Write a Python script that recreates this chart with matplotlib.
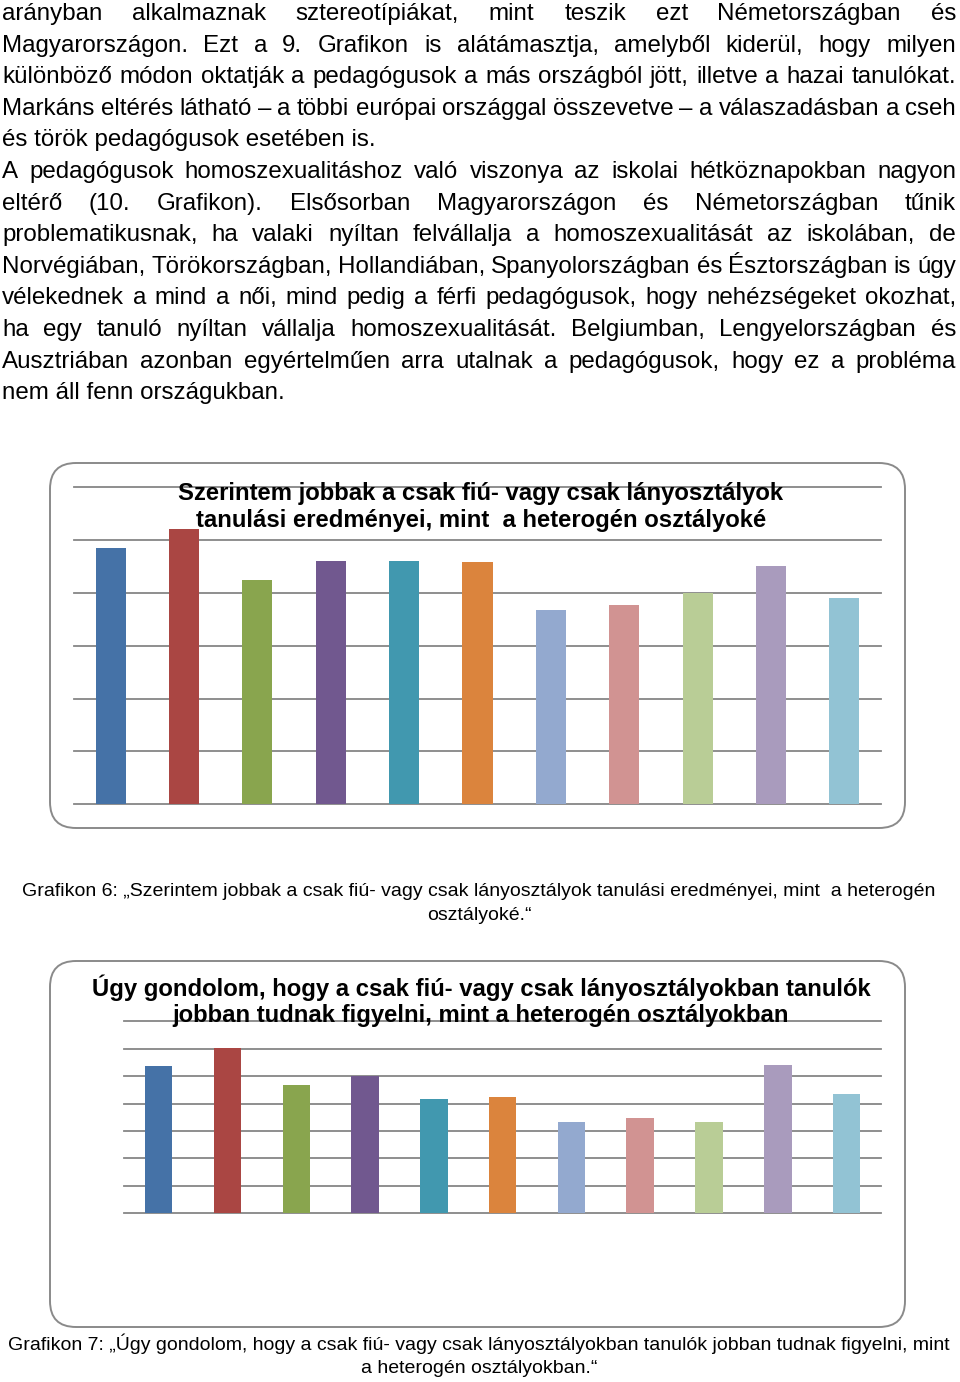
import matplotlib

matplotlib.use("Agg")
import matplotlib.pyplot as plt
from matplotlib.patches import FancyBboxPatch

plt.rcParams["font.family"] = ["Liberation Sans", "DejaVu Sans"]

W, H = 960, 1382

# --- page text -------------------------------------------------------------
BODY_LINES = [
    ("arányban alkalmaznak sztereotípiákat, mint teszik ezt Németországban és", True),
    ("Magyarországon. Ezt a 9. Grafikon is alátámasztja, amelyből kiderül, hogy milyen", True),
    ("különböző módon oktatják a pedagógusok a más országból jött, illetve a hazai tanulókat.", True),
    ("Markáns eltérés látható – a többi európai országgal összevetve – a válaszadásban a cseh", True),
    ("és török pedagógusok esetében is.", False),
    ("A pedagógusok homoszexualitáshoz való viszonya az iskolai hétköznapokban nagyon", True),
    ("eltérő (10. Grafikon). Elsősorban Magyarországon és Németországban tűnik", True),
    ("problematikusnak, ha valaki nyíltan felvállalja a homoszexualitását az iskolában, de", True),
    ("Norvégiában, Törökországban, Hollandiában, Spanyolországban és Észtországban is úgy", True),
    ("vélekednek a mind a női, mind pedig a férfi pedagógusok, hogy nehézségeket okozhat,", True),
    ("ha egy tanuló nyíltan vállalja homoszexualitását. Belgiumban, Lengyelországban és", True),
    ("Ausztriában azonban egyértelműen arra utalnak a pedagógusok, hogy ez a probléma", True),
    ("nem áll fenn országukban.", False),
]

# --- chart data (11 countries, no labels shown) ----------------------------
COLORS = ["#4572A7", "#AA4643", "#89A54E", "#71588F", "#4198AF", "#DB843D",
          "#93A9CF", "#D19392", "#B9CD96", "#A99BBD", "#92C3D4"]

chart6_title = ["Szerintem jobbak a csak fiú- vagy csak lányosztályok",
                "tanulási eredményei, mint  a heterogén osztályoké"]
chart6_values = [4.85, 5.20, 4.25, 4.60, 4.61, 4.58, 3.68, 3.77, 4.00, 4.50, 3.90]
chart6_caption = ["Grafikon 6: „Szerintem jobbak a csak fiú- vagy csak lányosztályok tanulási eredményei, mint  a heterogén",
                  "osztályoké.“"]

chart7_title = ["Úgy gondolom, hogy a csak fiú- vagy csak lányosztályokban tanulók",
                "jobban tudnak figyelni, mint a heterogén osztályokban"]
chart7_values = [5.36, 6.02, 4.69, 4.99, 4.16, 4.23, 3.33, 3.47, 3.34, 5.42, 4.34]
chart7_caption = ["Grafikon 7: „Úgy gondolom, hogy a csak fiú- vagy csak lányosztályokban tanulók jobban tudnak figyelni, mint",
                  "a heterogén osztályokban.“"]

fig = plt.figure(figsize=(W / 100, H / 100), dpi=100)
bg = fig.add_axes([0, 0, 1, 1], zorder=0)
bg.set_xlim(0, W)
bg.set_ylim(H, 0)
bg.axis("off")
renderer = fig.canvas.get_renderer()


def text_width(s, size, **kw):
    t = bg.text(0, 0, s, fontsize=size, **kw)
    w = t.get_window_extent(renderer).width
    t.remove()
    return w


def justify(line, y, size, x0=2, x1=956):
    words = line.split(" ")
    arts = [bg.text(0, y, w, fontsize=size, va="baseline", ha="left") for w in words]
    widths = [a.get_window_extent(renderer).width for a in arts]
    gap = (x1 - x0 - sum(widths)) / (len(words) - 1)
    x = x0
    for a, w in zip(arts, widths):
        a.set_x(x)
        x += w + gap


# size the body so the fullest line (line 3) sits at its natural width
BODY_SIZE = 10 * 950 / text_width(BODY_LINES[2][0], 10)
for i, (line, just) in enumerate(BODY_LINES):
    y = 20 + i * 31.6
    if just:
        justify(line, y, BODY_SIZE)
    else:
        bg.text(2, y, line, fontsize=BODY_SIZE, va="baseline", ha="left")


def chart(box, ax_px, ymax, values, title, title_y, title_w, caption, caption_y, caption_w, width):
    bx0, by0, bx1, by1 = box
    bg.add_patch(FancyBboxPatch((bx0, by0), bx1 - bx0, by1 - by0,
                                boxstyle="round,pad=0,rounding_size=26",
                                facecolor="white", edgecolor="#8a8a8a", lw=1.4))
    x0, ytop, x1, ybot = ax_px
    ax = fig.add_axes([x0 / W, 1 - ybot / H, (x1 - x0) / W, (ybot - ytop) / H], zorder=1)
    ax.patch.set_visible(False)
    for v in range(ymax + 1):
        ax.axhline(v, color="#868686", lw=1.3, zorder=1, clip_on=False)
    ax.bar(range(len(values)), values, width=width, color=COLORS, zorder=2)
    ax.set_xlim(-0.5, len(values) - 0.5)
    ax.set_ylim(0, ymax)
    ax.axis("off")
    tsize = 10 * title_w / text_width(title[0], 10, fontweight="bold")
    for j, t in enumerate(title):
        fig.text(481 / W, 1 - (title_y + j * 27.5) / H, t, fontsize=tsize,
                 fontweight="bold", ha="center", va="center", zorder=5)
    csize = 10 * caption_w / text_width(caption[0], 10)
    for j, t in enumerate(caption):
        bg.text(479, caption_y + j * 24.5, t, fontsize=csize, ha="center", va="center")


chart((50, 463, 905, 828), (74, 487, 881, 804.3), 6, chart6_values,
      chart6_title, 493, 604, chart6_caption, 891, 913, 0.41)
chart((50, 961, 905, 1327), (124.3, 1021.3, 881, 1213.3), 7, chart7_values,
      chart7_title, 988, 780, chart7_caption, 1344, 940, 0.40)

fig.savefig("out.png", dpi=100)
